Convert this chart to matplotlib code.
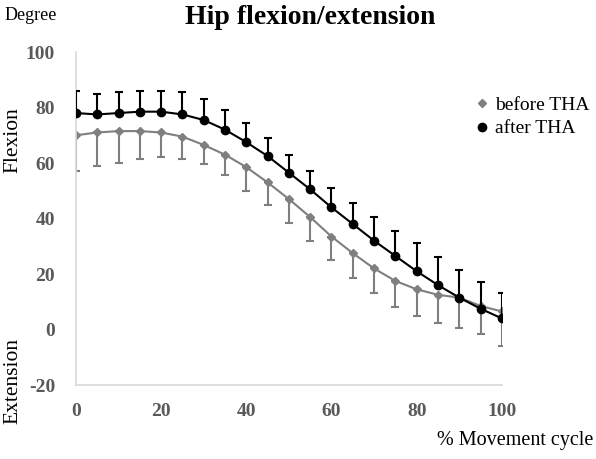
import matplotlib
matplotlib.use("Agg")
import matplotlib.pyplot as plt
from matplotlib.lines import Line2D

plt.rcParams['font.family'] = ['Liberation Serif', 'DejaVu Serif']
plt.rcParams['axes.unicode_minus'] = False

cycle = [0, 5, 10, 15, 20, 25, 30, 35, 40, 45, 50, 55, 60, 65, 70, 75, 80, 85, 90, 95, 100]
before_tha = [70, 71, 71.5, 71.5, 71, 69.5, 66.5, 63, 58.5, 53, 47, 40.5, 33.5, 27.5, 22, 17.5, 14.5, 12.5, 11.5, 8.5, 6.5]
before_sd = [13, 12, 11.5, 10, 9, 8, 7, 7.5, 8.5, 8, 8.5, 8.5, 8.5, 9, 9, 9.5, 9.5, 10, 11, 10, 12.5]
after_tha = [78, 77.5, 78, 78.5, 78.5, 77.5, 75.5, 72, 67.5, 62.5, 56.5, 50.5, 44, 38, 32, 26.5, 21, 16, 11.5, 7.5, 4]
after_sd = [8, 7.5, 7.5, 7.5, 7.5, 8, 7.5, 7, 7, 6.5, 6.5, 6.5, 7, 7.5, 8.5, 9, 10, 10, 10, 9.5, 9]
y_ticks = [-20, 0, 20, 40, 60, 80, 100]
x_ticks = [0, 20, 40, 60, 80, 100]

fig = plt.figure(figsize=(5.96, 4.59), dpi=100)
ax = fig.add_axes([0.1275, 0.1612, 0.7145, 0.7255])

gray = '#7f7f7f'
zeros = [0] * len(cycle)
ax.errorbar(cycle, before_tha, yerr=[before_sd, zeros], color=gray, ecolor=gray,
            marker='D', markersize=3.6, linewidth=1.5, elinewidth=1.5, capsize=3,
            capthick=1.5, zorder=2)
ax.errorbar(cycle, after_tha, yerr=[zeros, after_sd], color='black', ecolor='black',
            marker='o', markersize=6, linewidth=1.5, elinewidth=1.5, capsize=3,
            capthick=1.5, zorder=3)

ax.set_xlim(0, 100)
ax.set_ylim(-20, 100)
ax.set_xticks(x_ticks)
ax.set_yticks(y_ticks)
ax.tick_params(axis='y', length=0, labelsize=14, labelcolor='#595959', pad=15)
ax.tick_params(axis='x', length=0, labelsize=14, labelcolor='#595959', pad=13)
for lab in ax.get_xticklabels() + ax.get_yticklabels():
    lab.set_fontweight('bold')
for s in ['top', 'right']:
    ax.spines[s].set_visible(False)
for s in ['left', 'bottom']:
    ax.spines[s].set_color('#d9d9d9')
    ax.spines[s].set_linewidth(1.2)

fig.text(0.521, 0.962, 'Hip flexion/extension', ha='center', va='center',
         fontsize=20, fontweight='bold')
fig.text(0.008, 0.967, 'Degree', ha='left', va='center', fontsize=13)
fig.text(0.022, 0.695, 'Flexion', ha='center', va='center', rotation=90, fontsize=15.5)
fig.text(0.022, 0.17, 'Extension', ha='center', va='center', rotation=90, fontsize=15.5)
fig.text(0.995, 0.04, '% Movement cycle', ha='right', va='center', fontsize=14.5)

handles = [Line2D([], [], color=gray, marker='D', markersize=4, linestyle='none'),
           Line2D([], [], color='black', marker='o', markersize=6, linestyle='none')]
ax.legend(handles, ['before THA', 'after THA'], loc='upper left',
          bbox_to_anchor=(0.924, 0.89), frameon=False, fontsize=14,
          handlelength=0.5, handletextpad=0.4, labelspacing=0.3, borderaxespad=0)

fig.savefig('out.png', dpi=100)
